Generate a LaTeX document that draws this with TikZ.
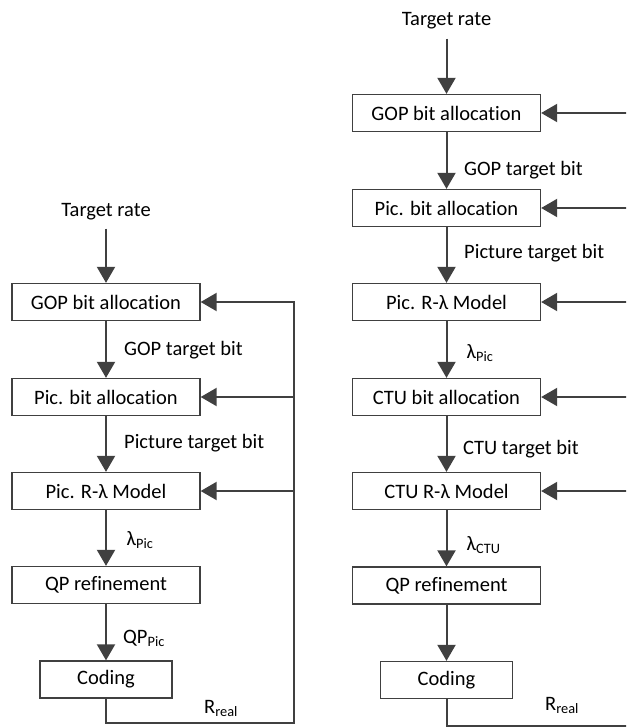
\documentclass[tikz,border=0pt]{standalone}
\usepackage{fontspec}
\setmainfont{Carlito}[Ligatures={NoCommon}]
\usetikzlibrary{arrows.meta}
\definecolor{ln}{HTML}{404040}
\begin{document}
\begin{tikzpicture}[x=1pt,y=-1pt,
  box/.style={draw=ln, line width=1.3pt, fill=white, minimum height=37pt, minimum width=188pt, inner sep=0pt, font=\fontsize{20.5}{24}\selectfont},
  lbl/.style={font=\fontsize{20.5}{24}\selectfont, inner sep=0pt, anchor=base west},
  ttl/.style={font=\fontsize{20.5}{24}\selectfont, inner sep=0pt, anchor=base},
  arr/.style={draw=ln, line width=2pt, -{Triangle[length=16pt,width=18pt]}},
  fb/.style={draw=ln, line width=2pt}]
\clip (0,0) rectangle (626,727);
% ---------- left diagram ----------
\node[ttl] (lt) at (106,216) {Target rate};
\node[box] (lg) at (106,302) {GOP bit allocation};
\node[box] (lp) at (106,397) {Pic. bit allocation};
\node[box] (lm) at (106,491) {Pic. R-λ Model};
\node[box] (lq) at (106,585) {QP refinement};
\node[box, minimum width=132pt] (lc) at (106,679.5) {Coding};
\node[lbl] (l1) at (124,355) {GOP target bit};
\node[lbl] (l2) at (124,448) {Picture target bit};
\node[lbl] (l3) at (126.5,545.5) {λ\textsubscript{Pic}};
\node[lbl] (l4) at (123,643) {QP\textsubscript{Pic}};
\node[lbl] (l5) at (204,713) {R\textsubscript{real}};
\draw[arr, shorten <=9pt] (lt.south) -- (lg);
\draw[arr] (lg) -- (lp);
\draw[arr] (lp) -- (lm);
\draw[arr] (lm) -- (lq);
\draw[arr] (lq) -- (lc);
\coordinate (lbr) at (294,723);
\draw[arr] (lc.south) |- (lbr) |- (lg.east);
\draw[arr] (lbr |- lp) -- (lp);
\draw[arr] (lbr |- lm) -- (lm);
% ---------- right diagram ----------
\node[ttl] (rt) at (446.5,26) {Target rate};
\node[box] (rg) at (446.5,113) {GOP bit allocation};
\node[box] (rp) at (446.5,208) {Pic. bit allocation};
\node[box] (rm) at (446.5,302) {Pic. R-λ Model};
\node[box] (rb) at (446.5,397) {CTU bit allocation};
\node[box] (rr) at (446.5,491) {CTU R-λ Model};
\node[box] (rq) at (446.5,585.5) {QP refinement};
\node[box, minimum width=132pt] (rc) at (446.5,680) {Coding};
\node[lbl] (r1) at (464,175.5) {GOP target bit};
\node[lbl] (r2) at (464,258) {Picture target bit};
\node[lbl] (r3) at (466.5,358) {λ\textsubscript{Pic}};
\node[lbl] (r4) at (463,454) {CTU target bit};
\node[lbl] (r5) at (466.5,550) {λ\textsubscript{CTU}};
\node[lbl] (r6) at (545,710) {R\textsubscript{real}};
\draw[arr, shorten <=9pt] (rt.south) -- (rg);
\draw[arr] (rg) -- (rp);
\draw[arr] (rp) -- (rm);
\draw[arr] (rm) -- (rb);
\draw[arr] (rb) -- (rr);
\draw[arr] (rr) -- (rq);
\draw[arr] (rq) -- (rc);
\coordinate (rbr) at (634,725.5);
\draw[arr] (rc.south) |- (rbr) |- (rg.east);
\draw[arr] (rbr |- rp) -- (rp);
\draw[arr] (rbr |- rm) -- (rm);
\draw[arr] (rbr |- rb) -- (rb);
\draw[arr] (rbr |- rr) -- (rr);
\end{tikzpicture}
\end{document}
